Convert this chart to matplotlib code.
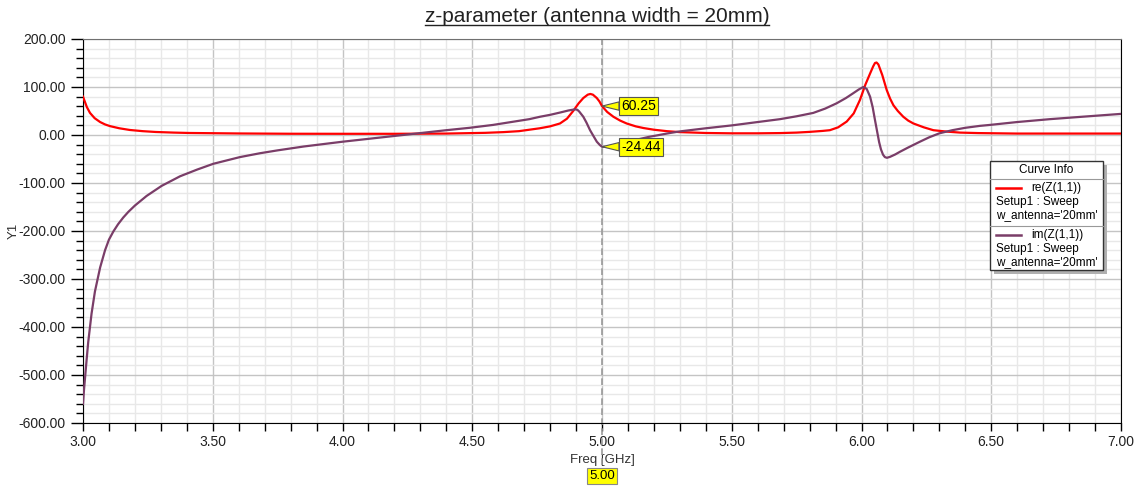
import numpy as np
import matplotlib.pyplot as plt
from matplotlib.lines import Line2D
from matplotlib.patches import Rectangle
from matplotlib.ticker import MultipleLocator, FormatStrFormatter
import matplotlib.transforms as mtransforms

plt.rcParams['font.family'] = ['Liberation Sans', 'DejaVu Sans']

# re(Z(1,1)) sampled off the sweep
f_re = [3.000, 3.004, 3.015, 3.027, 3.045, 3.066, 3.085, 3.104, 3.14, 3.18,
        3.23, 3.28, 3.35, 3.41, 3.6, 3.8, 4.0, 4.2, 4.4, 4.55,
        4.62, 4.68, 4.72, 4.76, 4.80, 4.838, 4.865, 4.889, 4.91, 4.928,
        4.945, 4.955, 4.965, 4.98, 4.99, 5.00, 5.02, 5.044, 5.07, 5.095,
        5.13, 5.16, 5.20, 5.25, 5.30, 5.40, 5.5, 5.6, 5.686, 5.75,
        5.80, 5.85, 5.878, 5.91, 5.943, 5.97, 5.994, 6.015, 6.033, 6.045,
        6.052, 6.058, 6.065, 6.08, 6.097, 6.11, 6.123, 6.14, 6.161, 6.18,
        6.20, 6.24, 6.277, 6.33, 6.38, 6.45, 6.6, 6.8, 7.0]
re_z = [80, 74, 58, 46, 35, 27, 22, 18.5, 14, 10.5,
        8, 6.3, 5, 4.2, 3.2, 2.6, 2.5, 2.5, 3, 4.5,
        6, 8, 11, 14, 18, 24, 34, 50, 66, 77,
        84, 85.5, 84, 77, 70, 60.25, 48, 38, 30, 24,
        18, 14.5, 11, 8, 6, 4.2, 3.5, 3.5, 4, 5,
        6.5, 8.5, 10, 16, 28, 45, 73, 105, 128, 143,
        150, 151, 147, 125, 94, 76, 62, 50, 38, 30,
        24, 16, 10, 7, 5, 4, 3, 3, 3]

# im(Z(1,1))
f_im = [3.000, 3.004, 3.008, 3.012, 3.02, 3.033, 3.046, 3.066, 3.085, 3.10,
        3.117, 3.135, 3.155, 3.175, 3.20, 3.245, 3.303, 3.374, 3.44, 3.502,
        3.605, 3.682, 3.75, 3.85, 4.00, 4.10, 4.20, 4.30, 4.40, 4.49,
        4.58, 4.65, 4.72, 4.761, 4.80, 4.84, 4.87, 4.896, 4.905, 4.912,
        4.928, 4.94, 4.954, 4.968, 4.98, 4.992, 5.00, 5.02, 5.04, 5.07,
        5.10, 5.14, 5.18, 5.22, 5.26, 5.30, 5.40, 5.50, 5.60, 5.686,
        5.75, 5.814, 5.86, 5.904, 5.94, 5.968, 5.99, 6.007, 6.02, 6.033,
        6.043, 6.052, 6.06, 6.068, 6.075, 6.083, 6.09, 6.098, 6.11, 6.13,
        6.148, 6.18, 6.225, 6.26, 6.30, 6.35, 6.40, 6.456, 6.495, 6.6,
        6.726, 6.85, 7.0]
im_z = [-560, -530, -505, -480, -432, -372, -326, -276, -240, -218,
        -201, -186, -172, -160, -147, -127, -106, -86, -72, -60,
        -46, -38, -32, -24, -14, -8, -2, 4, 10, 15,
        21, 27, 33, 38, 42, 47, 51, 53.5, 52.5, 49,
        38, 26, 10, -3, -14, -21, -24.44, -25, -23.5, -20,
        -15, -9, -4, 0, 4, 7.5, 14, 20, 27, 33,
        39, 46, 55, 66, 77, 87, 95, 100, 96, 80,
        58, 31, 8, -15, -30, -41, -46, -47.5, -45.5, -40.5,
        -35, -26, -14, -5, 3.5, 10, 15, 19, 21, 27,
        33, 38, 44]

marker_f = 5.00
marker_re = 60.25
marker_im = -24.44

W, H = 1135, 487
fig = plt.figure(figsize=(W / 100, H / 100), dpi=100)
ax = fig.add_axes([83 / W, 1 - 423 / H, (1121 - 83) / W, (423 - 39) / H])

c_re = '#ff0000'
c_im = '#7a3d68'
ax.plot(f_re, re_z, color=c_re, lw=1.6, zorder=3)
ax.plot(f_im, im_z, color=c_im, lw=1.6, zorder=3)

ax.set_xlim(3, 7)
ax.set_ylim(-600, 200)
ax.xaxis.set_major_locator(MultipleLocator(0.5))
ax.xaxis.set_minor_locator(MultipleLocator(0.1))
ax.yaxis.set_major_locator(MultipleLocator(100))
ax.yaxis.set_minor_locator(MultipleLocator(20))
ax.xaxis.set_major_formatter(FormatStrFormatter('%.2f'))
ax.yaxis.set_major_formatter(FormatStrFormatter('%.2f'))
ax.grid(which='major', color='#c4c4c4', lw=1.0)
ax.grid(which='minor', color='#e8e8e8', lw=1.0)
ax.set_axisbelow(True)

ax.tick_params(axis='y', which='major', length=9, width=1, direction='out', labelsize=10, labelcolor='#222222')
ax.tick_params(axis='y', which='minor', length=5, width=1, direction='out')
ax.tick_params(axis='x', which='both', length=6, width=1, direction='out', labelsize=10, labelcolor='#222222', pad=3)
ax.spines['top'].set_color('#707070')
ax.spines['left'].set_color('black')
ax.spines['bottom'].set_color('black')
ax.spines['right'].set_color('black')

ax.set_xlabel('Freq [GHz]', fontsize=9.5, color='#333333', labelpad=3)
ax.set_ylabel('Y1', fontsize=9.5, color='#333333')
ax.yaxis.set_label_coords(-0.061, 0.5)

# marker line and its readout below the axis
ax.axvline(marker_f, ymin=-0.11, ymax=1, color='#9a9a9a', lw=1.2, ls=(0, (4, 2)), clip_on=False, zorder=2)
trans = mtransforms.blended_transform_factory(ax.transData, ax.transAxes)
ax.text(marker_f, -0.138, '%.2f' % marker_f, transform=trans, ha='center', va='center', fontsize=9.5,
        bbox=dict(boxstyle='square,pad=0.15', fc='#ffff00', ec='#888888', lw=0.8))

tag = dict(boxstyle='square,pad=0.15', fc='#ffff00', ec='#555555', lw=0.8)
arrow = dict(arrowstyle='wedge,tail_width=0.6', fc='#ffff00', ec='#555555', lw=0.8, shrinkA=0, shrinkB=0)
for val in (marker_re, marker_im):
    ax.annotate('%.2f' % val, xy=(marker_f, val), xytext=(14, 0), textcoords='offset points',
                ha='left', va='center', fontsize=10, bbox=tag, arrowprops=arrow, zorder=5)

# title, underlined
t = fig.text(597 / W, 1 - 17 / H, 'z-parameter (antenna width = 20mm)', ha='center', va='center',
             fontsize=15, color='#222222')
fig.canvas.draw()
bb = t.get_window_extent().transformed(fig.transFigure.inverted())
fig.add_artist(Line2D([bb.x0, bb.x1], [bb.y0 + 0.004, bb.y0 + 0.004], transform=fig.transFigure,
                      color='#222222', lw=1))


def px(x, y):
    return x / W, 1 - y / H


# Curve Info box
x0, y0, x1, y1 = 990, 161, 1103, 270
fig.add_artist(Rectangle(px(x0 + 4, y1 + 4), (x1 - x0) / W, (y1 - y0) / H, transform=fig.transFigure,
                         fc='#b0b0b0', ec='none', zorder=6))
fig.add_artist(Rectangle(px(x0, y1), (x1 - x0) / W, (y1 - y0) / H, transform=fig.transFigure,
                         fc='white', ec='#333333', lw=1, zorder=7))
fig.text(*px((x0 + x1) / 2, 170), 'Curve Info', ha='center', va='center', fontsize=8.5, zorder=8)
for ys in (179, 226):
    fig.add_artist(Line2D([px(x0, 0)[0], px(x1, 0)[0]], [px(0, ys)[1]] * 2, transform=fig.transFigure,
                          color='#999999', lw=0.8, zorder=8))
entries = [('re(Z(1,1))', c_re, 188), ('im(Z(1,1))', c_im, 235)]
for name, col, ye in entries:
    fig.add_artist(Line2D([px(996, 0)[0], px(1021, 0)[0]], [px(0, ye)[1]] * 2, transform=fig.transFigure,
                          color=col, lw=1.8, zorder=8))
    fig.text(*px(1031, ye), name, ha='left', va='center', fontsize=8.5, zorder=8)
    fig.text(*px(996, ye + 14), 'Setup1 : Sweep', ha='left', va='center', fontsize=8.5, zorder=8)
    fig.text(*px(996, ye + 27), "w_antenna='20mm'", ha='left', va='center', fontsize=8.5, zorder=8)

fig.savefig('out.png', dpi=100)
